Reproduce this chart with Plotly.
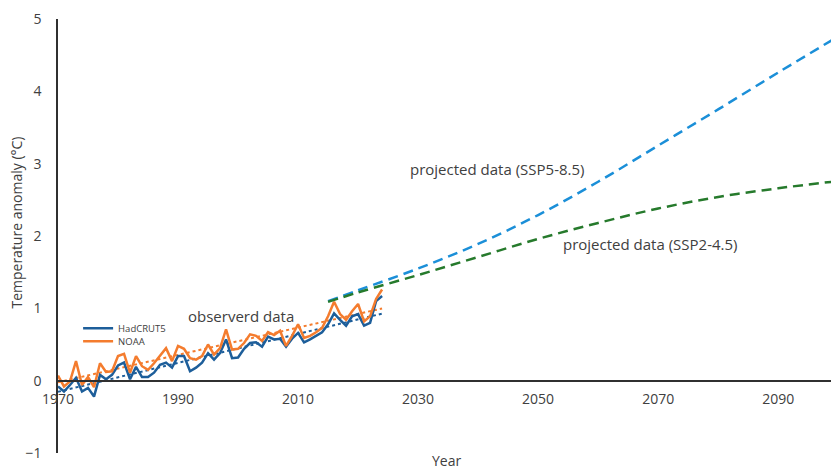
import numpy as np
import plotly.graph_objects as go

years_obs = list(range(1970, 2025))
hadcrut5 = [-0.08, -0.15, -0.06, 0.04, -0.15, -0.10, -0.22, 0.08, 0.02, 0.08,
            0.21, 0.25, 0.02, 0.19, 0.05, 0.05, 0.11, 0.22, 0.25, 0.18,
            0.34, 0.34, 0.13, 0.18, 0.25, 0.38, 0.29, 0.38, 0.57, 0.31,
            0.32, 0.44, 0.52, 0.53, 0.47, 0.61, 0.57, 0.58, 0.47, 0.58,
            0.66, 0.53, 0.57, 0.62, 0.67, 0.78, 0.93, 0.84, 0.76, 0.89,
            0.92, 0.76, 0.80, 1.10, 1.17]
noaa = [0.07, -0.08, -0.01, 0.27, -0.06, 0.05, -0.09, 0.24, 0.12, 0.13,
        0.34, 0.37, 0.11, 0.34, 0.20, 0.15, 0.24, 0.34, 0.45, 0.27,
        0.48, 0.44, 0.31, 0.29, 0.34, 0.50, 0.36, 0.45, 0.71, 0.43,
        0.44, 0.52, 0.64, 0.62, 0.55, 0.67, 0.63, 0.69, 0.48, 0.62,
        0.78, 0.59, 0.62, 0.67, 0.73, 0.89, 1.09, 0.92, 0.84, 0.96,
        1.06, 0.82, 0.89, 1.13, 1.26]

years_proj = [2015, 2020, 2030, 2040, 2050, 2060, 2070, 2080, 2090, 2099]
ssp585 = [1.10, 1.25, 1.55, 1.89, 2.29, 2.75, 3.25, 3.75, 4.26, 4.71]
ssp245 = [1.09, 1.22, 1.46, 1.71, 1.96, 2.18, 2.38, 2.54, 2.66, 2.75]

x_ticks = [1970, 1990, 2010, 2030, 2050, 2070, 2090]
y_ticks = [-1, 0, 1, 2, 3, 4, 5]

C_HAD = "#1d5e9a"
C_NOAA = "#f47c2e"
C_585 = "#1b8fd8"
C_245 = "#267a2c"
FONT = "Open Sans"

yrs = np.array(years_obs, dtype=float)
had_fit = np.polyval(np.polyfit(yrs, hadcrut5, 1), yrs)
noaa_fit = np.polyval(np.polyfit(yrs, noaa, 1), yrs)

fig = go.Figure()
fig.add_trace(go.Scatter(x=years_obs, y=had_fit, mode="lines", showlegend=False,
                         line=dict(color=C_HAD, width=2, dash="dot"), hoverinfo="skip"))
fig.add_trace(go.Scatter(x=years_obs, y=noaa_fit, mode="lines", showlegend=False,
                         line=dict(color=C_NOAA, width=2, dash="dot"), hoverinfo="skip"))
fig.add_trace(go.Scatter(x=years_obs, y=hadcrut5, mode="lines", name="HadCRUT5",
                         legend="legend", line=dict(color=C_HAD, width=2.5)))
fig.add_trace(go.Scatter(x=years_obs, y=noaa, mode="lines", name="NOAA",
                         legend="legend2", line=dict(color=C_NOAA, width=2.5)))
fig.add_trace(go.Scatter(x=years_proj, y=ssp585, mode="lines", showlegend=False,
                         line=dict(color=C_585, width=2.5, dash="10px,6px", shape="spline", smoothing=1)))
fig.add_trace(go.Scatter(x=years_proj, y=ssp245, mode="lines", showlegend=False,
                         line=dict(color=C_245, width=2.5, dash="10px,6px", shape="spline", smoothing=1)))

leg_common = dict(xanchor="left", yanchor="top", bgcolor="rgba(0,0,0,0)",
                  font=dict(size=9.5, color="#404040"), itemwidth=30)
fig.update_layout(
    width=831, height=470,
    margin=dict(l=58, r=0, t=19, b=17, autoexpand=False),
    paper_bgcolor="white", plot_bgcolor="white",
    font=dict(family=FONT, color="#404040", size=14),
    legend=dict(x=0.026, y=0.321, **leg_common),
    legend2=dict(x=0.026, y=0.291, **leg_common),
    showlegend=True,
)
fig.update_xaxes(range=[1970, 2098.8], tickvals=x_ticks, ticktext=[str(v) for v in x_ticks],
                 showgrid=False, zeroline=False, showline=True, linecolor="#303030", linewidth=1.5,
                 anchor="free", position=1/6, ticks="outside", ticklen=6, automargin=False,
                 tickcolor="rgba(0,0,0,0)", tickfont=dict(size=14, color="#404040"))
fig.update_yaxes(range=[-1, 5], tickvals=y_ticks, showgrid=False, zeroline=False,
                 showline=True, linecolor="#303030", linewidth=1.5, automargin=False,
                 ticks="outside", ticklen=12, tickcolor="rgba(0,0,0,0)",
                 tickfont=dict(size=14, color="#404040"))

fig.add_annotation(text="Temperature anomaly (°C)", xref="paper", yref="paper",
                   x=-0.053, y=0.531, xanchor="center", yanchor="middle",
                   textangle=-90, showarrow=False, font=dict(size=14, color="#404040"))
fig.add_annotation(text="Year", xref="paper", yref="paper", x=0.502, y=-0.018,
                   xanchor="center", yanchor="middle",
                   showarrow=False, font=dict(size=14, color="#404040"))
fig.add_annotation(text="observerd data", x=2000.5, y=0.89, xanchor="center", yanchor="middle",
                   showarrow=False, font=dict(size=15, color="#404040"))
fig.add_annotation(text="projected data (SSP5-8.5)", x=2043.1, y=2.92, xanchor="center",
                   yanchor="middle", showarrow=False, font=dict(size=15, color="#404040"))
fig.add_annotation(text="projected data (SSP2-4.5)", x=2068.6, y=1.89, xanchor="center",
                   yanchor="middle", showarrow=False, font=dict(size=15, color="#404040"))

fig.write_html("out.html", config={"displayModeBar": False},
               post_script="document.body.style.margin='0';document.body.style.padding='0';")
